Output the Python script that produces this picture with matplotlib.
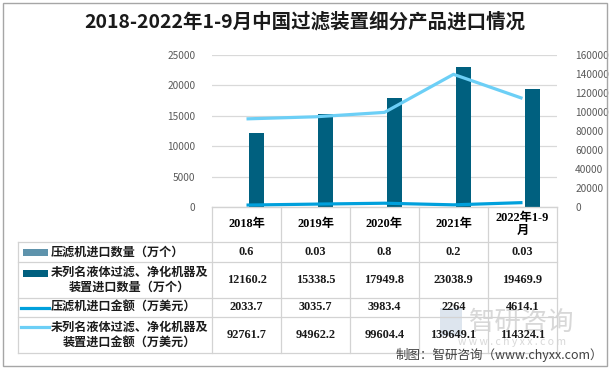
import matplotlib
matplotlib.use("Agg")
import matplotlib.pyplot as plt
import numpy as np
from matplotlib.patches import Rectangle
from matplotlib.lines import Line2D

plt.rcParams["font.family"] = ["Noto Sans CJK SC", "DejaVu Sans"]

years = ["2018年", "2019年", "2020年", "2021年", "2022年1-9\n月"]
press_qty = [0.6, 0.03, 0.8, 0.2, 0.03]
other_qty = [12160.2, 15338.5, 17949.8, 23038.9, 19469.9]
press_amt = [2033.7, 3035.7, 3983.4, 2264, 4614.1]
other_amt = [92761.7, 94962.2, 99604.4, 139649.1, 114324.1]

press_qty_txt = ["0.6", "0.03", "0.8", "0.2", "0.03"]
other_qty_txt = ["12160.2", "15338.5", "17949.8", "23038.9", "19469.9"]
press_amt_txt = ["2033.7", "3035.7", "3983.4", "2264", "4614.1"]
other_amt_txt = ["92761.7", "94962.2", "99604.4", "139649.1", "114324.1"]

series_names = ["压滤机进口数量（万个）", "未列名液体过滤、净化机器及\n装置进口数量（万个）",
                "压滤机进口金额（万美元）", "未列名液体过滤、净化机器及\n装置进口金额（万美元）"]
colors = ["#5E93AC", "#00607F", "#00A0DC", "#6CCFF6"]

W, H = 610, 369
fig = plt.figure(figsize=(W / 100, H / 100), dpi=100)

# plot area in pixels
pl, pr, pt, pb = 212, 557, 55, 207
ax = fig.add_axes([pl / W, 1 - pb / H, (pr - pl) / W, (pb - pt) / H])
x = np.arange(len(years))
bw = 0.22
ax.bar(x - 0.14, press_qty, bw, color=colors[0], zorder=3)
ax.bar(x + 0.14, other_qty, bw, color=colors[1], zorder=3)
ax.set_xlim(-0.5, len(years) - 0.5)
ax.set_ylim(0, 25000)
ax.set_yticks(np.arange(0, 25001, 5000))
ax.grid(axis="y", color="#D9D9D9", lw=0.9, zorder=0)
ax.set_xticks([])
for s in ["top", "left", "right"]:
    ax.spines[s].set_visible(False)
ax.spines["bottom"].set_color("#D9D9D9")
ax.tick_params(axis="y", length=0, labelsize=7.3, labelcolor="#595959", pad=12)

ax2 = ax.twinx()
ax2.plot(x, press_amt, color=colors[2], lw=2.3, zorder=4, solid_capstyle="butt")
ax2.plot(x, other_amt, color=colors[3], lw=2.3, zorder=4, solid_capstyle="butt")
ax2.set_ylim(0, 160000)
ax2.set_yticks(np.arange(0, 160001, 20000))
for s in ["top", "left", "right", "bottom"]:
    ax2.spines[s].set_visible(False)
ax2.tick_params(axis="y", length=0, labelsize=7.3, labelcolor="#595959", pad=13)

# overlay in pixel coordinates for table, title, footer
ov2 = fig.add_axes([0, 0, 1, 1])
ov2.set_xlim(0, W)
ov2.set_ylim(H, 0)
ov2.axis("off")

ov2.add_patch(Rectangle((2.5, 2.5), W - 5.5, H - 5.5, fill=False, ec="#A6A6A6", lw=1))
ov2.text(W / 2, 22, "2018-2022年1-9月中国过滤装置细分产品进口情况", ha="center", va="center",
         fontsize=14, fontweight="bold", color="#1A1A1A")

# table
gc = "#D3D3D3"
colw = (pr - pl) / len(years)
cols = [pl + i * colw for i in range(len(years) + 1)]
rows = [207, 242, 262, 298, 317, 353]
tl = 18
ov2.plot([pl, pr], [rows[0], rows[0]], color=gc, lw=0.9)
for r in rows[1:]:
    ov2.plot([tl, pr], [r, r], color=gc, lw=0.9)
ov2.plot([tl, tl], [rows[1], rows[-1]], color=gc, lw=0.9)
for c in cols:
    ov2.plot([c, c], [rows[0], rows[-1]], color=gc, lw=0.9)

# watermark (behind table text)
ov2.add_patch(Rectangle((440, 308), 22, 28, color="#8FA9C8", alpha=0.3, lw=0, zorder=0.5))
ov2.text(522, 322, "智研咨询", ha="center", va="center", fontsize=19, color="#7F7F7F",
         alpha=0.3, zorder=0.5)
ov2.text(512, 342, "w w w . c h y x x . c o m", ha="center", va="center", fontsize=7.5,
         color="#7F7F7F", alpha=0.3, zorder=0.5)

num_font = ["Liberation Serif", "Noto Sans CJK SC"]
for i, yl in enumerate(years):
    ov2.text((cols[i] + cols[i + 1]) / 2, (rows[0] + rows[1]) / 2, yl, ha="center", va="center",
             fontsize=8.8, fontweight="bold", family=num_font, linespacing=1.15)

table_vals = [press_qty_txt, other_qty_txt, press_amt_txt, other_amt_txt]
for r, vals in enumerate(table_vals):
    yc = (rows[r + 1] + rows[r + 2]) / 2
    for i, v in enumerate(vals):
        ov2.text((cols[i] + cols[i + 1]) / 2, yc, v, ha="center", va="center",
                 fontsize=8.8, fontweight="bold", family=num_font, color="#1A1A1A")
    if r < 2:
        ky = yc - 7 if r == 1 else yc
        ov2.add_patch(Rectangle((23, ky - 3.5), 25, 7, color=colors[r], lw=0))
    else:
        ky = yc - 8 if r == 3 else yc
        ov2.add_line(Line2D([21, 49], [ky, ky], color=colors[r], lw=2.3))
    ov2.text(51, yc, series_names[r], ha="left", va="center", multialignment="center",
             fontsize=8.7, fontweight="bold", color="#1A1A1A", linespacing=1.2)

ov2.text(603, 355, "制图：智研咨询（www.chyxx.com）", ha="right", va="center", fontsize=9,
         color="#404040")

fig.savefig("out.png", dpi=100)
